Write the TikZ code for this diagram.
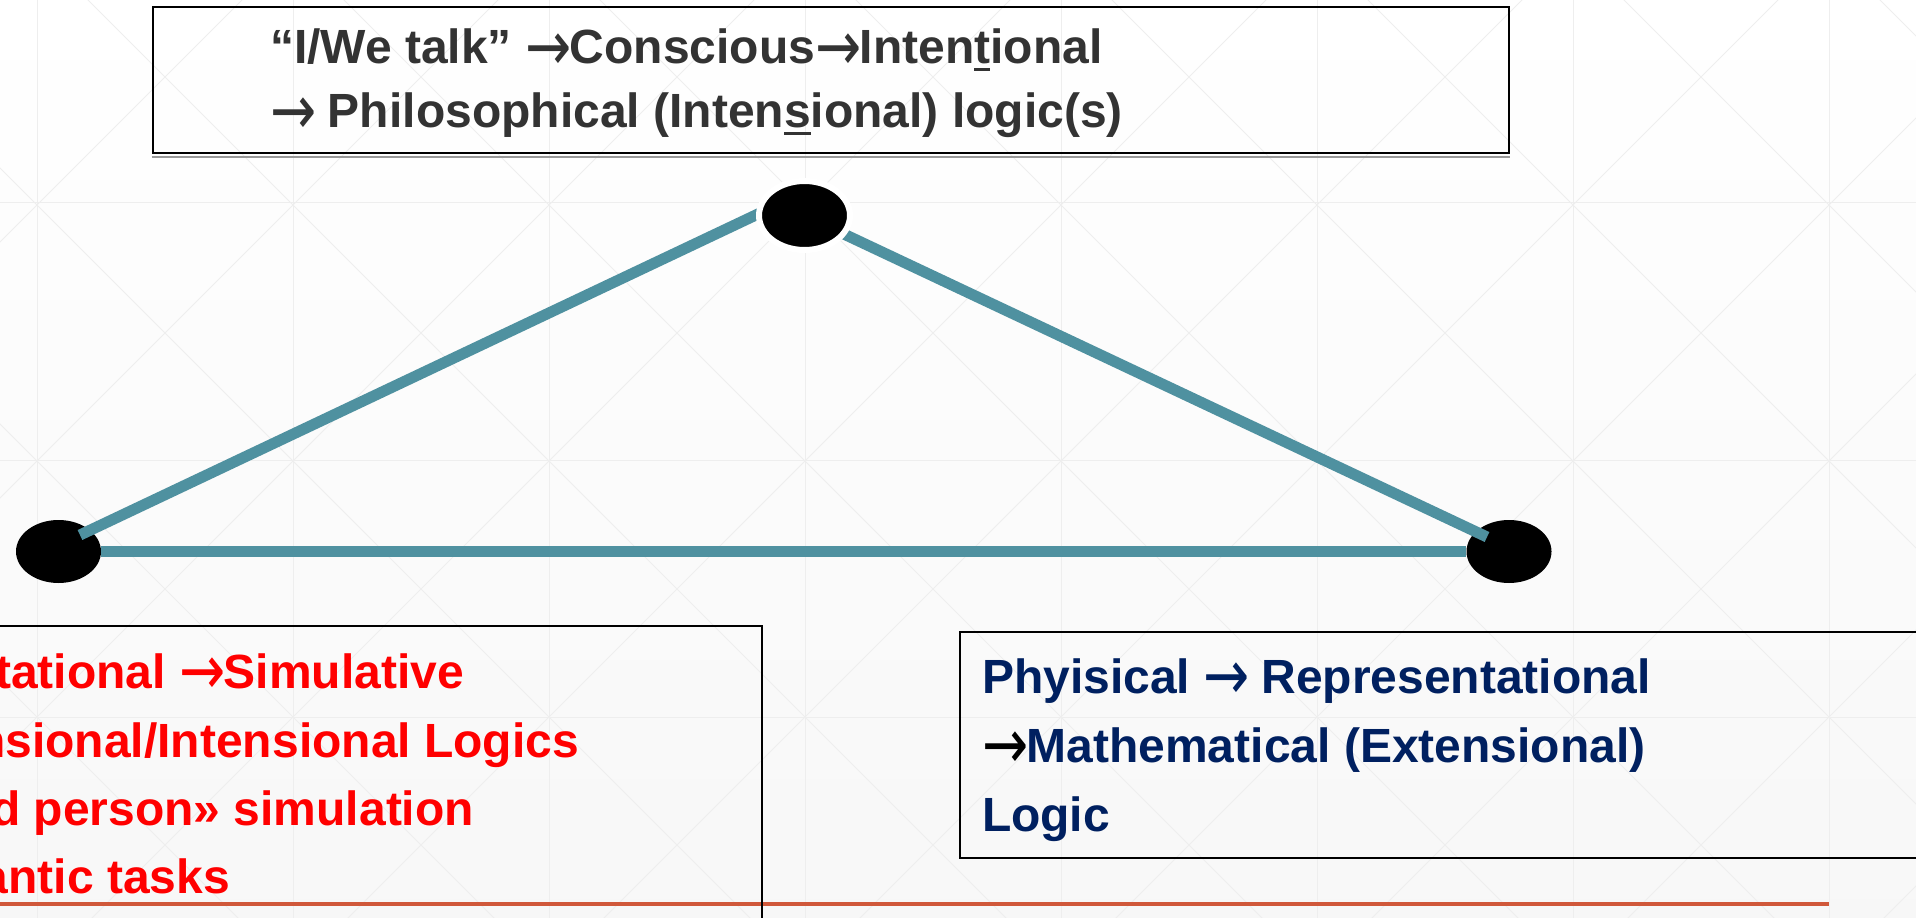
\documentclass[tikz,border=0pt]{standalone}
\usepackage{fontspec}
\setmainfont{Liberation Sans}
\newfontfamily\arrowfont{DejaVu Sans}
\usetikzlibrary{shapes.geometric,calc}
\definecolor{tealline}{HTML}{4F91A0}
\definecolor{navytxt}{HTML}{002060}
\definecolor{darktxt}{HTML}{333333}
\definecolor{redtxt}{HTML}{FF0000}
\definecolor{orangeline}{HTML}{D0583A}
\definecolor{gridc}{HTML}{EEEEEE}
\pgfdeclarelayer{bg}\pgfdeclarelayer{dots}\pgfdeclarelayer{edges}
\pgfsetlayers{bg,dots,edges,main}
\newcommand\arr{\makebox[0.93em][l]{\hspace{0.01em}\raisebox{-0.13em}{\scalebox{1.15}[1.45]{\arrowfont\mdseries →}}}}
\newcommand\ulx[1]{\setbox0\hbox{#1}\rlap{\rule[-3.5pt]{\wd0}{1.5pt}}#1}
\begin{document}
\begin{tikzpicture}[x=0.5pt,y=0.5pt,
  dot/.style={ellipse, fill=black, inner sep=0pt, minimum width=42.5pt, minimum height=31.5pt},
  edge/.style={draw=tealline, line width=5.5pt, line cap=butt},
  box/.style={rectangle, draw=black, line width=1.1pt, inner sep=0pt},
  txt/.style={font=\bfseries\fontsize{24}{28}\selectfont, inner sep=0pt, outer sep=0pt},
]
\useasboundingbox (0,0) rectangle (1916,917);
\clip (0,0) rectangle (1916,917);
\begin{pgfonlayer}{bg}
\shade[top color=white, bottom color=black!3] (0,0) rectangle (1916,917);
\begin{scope}[gridc, line width=0.5pt]
\foreach \i in {0,...,7} \draw ({37+256*\i},-10) -- ({37+256*\i},930);
\foreach \j in {0,1,2} \draw (-10,{200+257*\j}) -- (1930,{200+257*\j});
\foreach \i in {-4,...,11} {
  \draw ({37+256*\i-1000},-800) -- ({37+256*\i+1000},1200);
  \draw ({37+256*\i-1000},1200) -- ({37+256*\i+1000},-800);
}
\end{scope}
\coordinate (ol) at (-5,13);
\coordinate (or) at (1829,13);
\draw[orangeline, line width=1.6pt] (ol) -- (or);
\node[box, minimum width=678pt, minimum height=73pt] (TB) at (831,837) {};
\draw[black!40, line width=0.8pt] ($(TB.south west)+(0,-3)$) -- ($(TB.south east)+(0,-3)$);
\node[box, minimum width=391pt, minimum height=155.5pt] (LB) at (371,135.5) {};
\node[box, minimum width=490pt, minimum height=113pt] (RB) at (1450,172) {};
\end{pgfonlayer}
\begin{pgfonlayer}{dots}
\node[dot] (L) at (58.5,365.5) {};
\node[dot] (R) at (1509,365.5) {};
\end{pgfonlayer}
\node[dot, draw=white, line width=3pt, minimum width=45.5pt, minimum height=34.5pt] (T) at (804.5,701.5) {};
\begin{pgfonlayer}{edges}
\draw[edge] ($(L.center)+(21.5,16.5)$) -- ($(T.center)+(0,23.5)$);
\draw[edge] (T.center) -- ($(R.center)+(-22,14.5)$);
\draw[edge] (L.east) -- (R.west);
\end{pgfonlayer}
% top box text
\node[txt, text=darktxt, anchor=base west] (t1) at (270,853) {“I/We talk” \arr Conscious\arr Inten\ulx{t}ional};
\node[txt, text=darktxt, anchor=base west] (t2) at (270,789) {\arr\ Philosophical (Inten\ulx{s}ional) logic(s)};
% left box text
\node[txt, text=redtxt, anchor=base east] (l1) at (464,229) {tational \arr Simulative};
\node[txt, text=redtxt, anchor=base east] (l2) at (579,160) {nsional/Intensional Logics};
\node[txt, text=redtxt, anchor=base east] (l3) at (474,92) {d person» simulation};
\node[txt, text=redtxt, anchor=base east] (l4) at (230,24) {antic tasks};
% right box text
\node[txt, text=navytxt, anchor=base west] (r1) at (982,224) {Phyisical \arr\ Representational};
\node[txt, text=navytxt, anchor=base west] (r2) at (982,155) {\textcolor{black}{\arr}Mathematical (Extensional)};
\node[txt, text=navytxt, anchor=base west] (r3) at (982,86) {Logic};
\end{tikzpicture}
\end{document}
